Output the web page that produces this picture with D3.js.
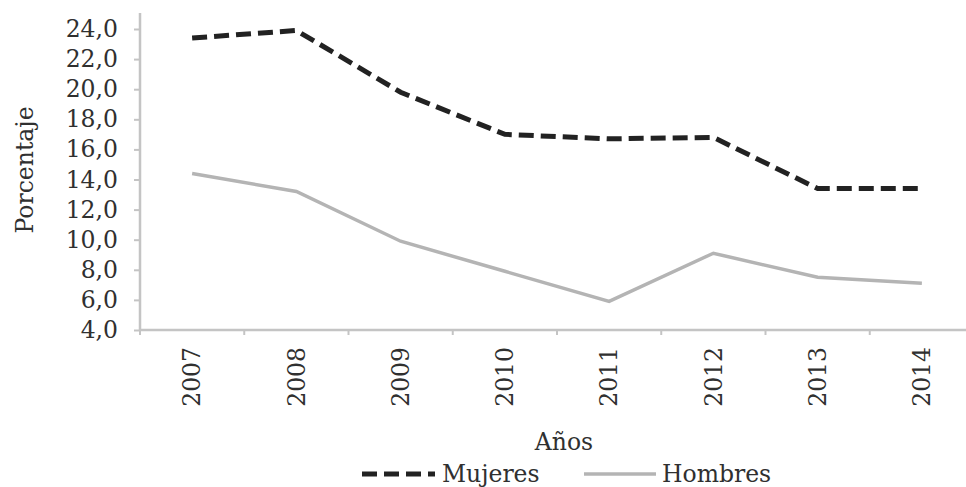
<!DOCTYPE html>
<html>
<head>
<meta charset="utf-8">
<script src="https://cdn.jsdelivr.net/npm/d3@7"></script>
<style>
  body { margin: 0; background: #fff; }
  text { font-family: "DejaVu Serif", serif; fill: #303030; }
</style>
</head>
<body>
<div id="chart"></div>
<script>
const years = ['2007', '2008', '2009', '2010', '2011', '2012', '2013', '2014'];
const mujeres = [23.4, 23.9, 19.8, 17.0, 16.7, 16.8, 13.4, 13.4];
const hombres = [14.4, 13.2, 9.9, 7.9, 5.9, 9.1, 7.5, 7.1];
const yTicks = [4, 6, 8, 10, 12, 14, 16, 18, 20, 22, 24];

const width = 966, height = 487;
const plot = {left: 140, right: 974, top: 29, bottom: 330};
const fontSize = '23.5px';

const svg = d3.select('#chart')
    .append('svg')
    .attr('width', width)
    .attr('height', height);

const x = d3.scaleBand(years, [plot.left, plot.right]);
const y = d3.scaleLinear([4, 24], [plot.bottom, plot.top]);
const cx = (d) => x(d) + x.bandwidth() / 2;

// y axis
const yAxis = svg.append('g')
    .attr('transform', `translate(${plot.left},0)`)
    .call(d3.axisLeft(y)
        .tickValues(yTicks)
        .tickSize(6)
        .tickPadding(16)
        .tickFormat(d => d.toFixed(1).replace('.', ',')));
yAxis.select('.domain').remove();
yAxis.selectAll('line').attr('stroke', '#c4c4c4').attr('stroke-width', 2);
yAxis.selectAll('text').style('font-size', fontSize).style('font-family', '"DejaVu Serif", serif').attr('fill', '#303030');

svg.append('line')
    .attr('x1', plot.left).attr('x2', plot.left)
    .attr('y1', 13).attr('y2', plot.bottom)
    .attr('stroke', '#c4c4c4').attr('stroke-width', 2.5);

// x axis
svg.append('line')
    .attr('x1', plot.left).attr('x2', plot.right)
    .attr('y1', plot.bottom).attr('y2', plot.bottom)
    .attr('stroke', '#c4c4c4').attr('stroke-width', 2.5);

svg.selectAll('.xtick')
    .data(d3.range(years.length + 1))
    .enter()
    .append('line')
    .attr('class', 'xtick')
    .attr('x1', i => plot.left + i * x.bandwidth())
    .attr('x2', i => plot.left + i * x.bandwidth())
    .attr('y1', plot.bottom)
    .attr('y2', plot.bottom + 5)
    .attr('stroke', '#c4c4c4')
    .attr('stroke-width', 2);

svg.selectAll('.xlabel')
    .data(years)
    .enter()
    .append('text')
    .attr('class', 'xlabel')
    .attr('transform', d => `translate(${cx(d)},${plot.bottom + 17}) rotate(-90)`)
    .attr('dy', '0.35em')
    .attr('text-anchor', 'end')
    .style('font-size', fontSize)
    .text(d => d);

// axis titles
svg.append('text')
    .attr('x', 564)
    .attr('y', 450)
    .attr('text-anchor', 'middle')
    .style('font-size', fontSize)
    .text('Años');

svg.append('text')
    .attr('transform', `translate(25,170) rotate(-90)`)
    .attr('dy', '0.35em')
    .attr('text-anchor', 'middle')
    .style('font-size', fontSize)
    .text('Porcentaje');

// lines
const line = d3.line()
    .x((d, i) => cx(years[i]))
    .y(d => y(d));

svg.append('path')
    .datum(hombres)
    .attr('d', line)
    .attr('fill', 'none')
    .attr('stroke', '#b4b4b4')
    .attr('stroke-width', 3.5);

svg.append('path')
    .datum(mujeres)
    .attr('d', line)
    .attr('fill', 'none')
    .attr('stroke', '#222')
    .attr('stroke-width', 5)
    .attr('stroke-dasharray', '15,7');

// legend
const legend = svg.append('g');
legend.append('line')
    .attr('x1', 362).attr('x2', 435)
    .attr('y1', 474).attr('y2', 474)
    .attr('stroke', '#222').attr('stroke-width', 5)
    .attr('stroke-dasharray', '15,7');
legend.append('text')
    .attr('x', 442).attr('y', 482)
    .style('font-size', fontSize)
    .text('Mujeres');
legend.append('line')
    .attr('x1', 584).attr('x2', 656)
    .attr('y1', 474).attr('y2', 474)
    .attr('stroke', '#b4b4b4').attr('stroke-width', 3.5);
legend.append('text')
    .attr('x', 662).attr('y', 482)
    .style('font-size', fontSize)
    .text('Hombres');
</script>
</body>
</html>
